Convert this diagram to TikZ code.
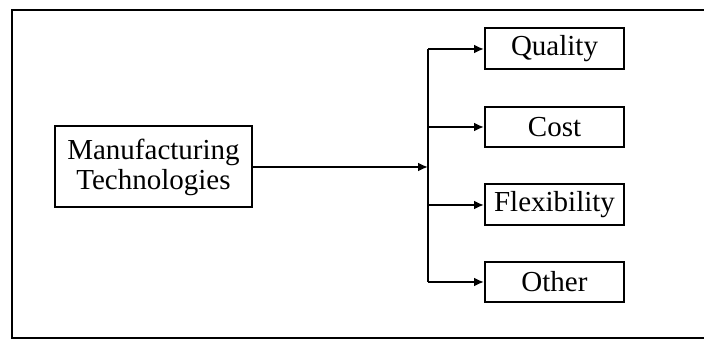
\documentclass[tikz,border=0pt]{standalone}
\usepackage{fontspec}
\setmainfont{Liberation Serif}
\usetikzlibrary{arrows.meta}
\begin{document}
\begin{tikzpicture}[x=1pt,y=1pt,
  box/.style={draw,line width=2pt,inner sep=0pt,align=center,font=\fontsize{29}{30}\selectfont},
  conn/.style={line width=2pt},
  arr/.style={conn,-{Latex[length=10pt,width=9pt]}}]
\useasboundingbox (0,0) rectangle (704,340);
\draw[line width=2pt] (704,330) -- (12,330) -- (12,2) -- (704,2);
\node[box,minimum width=197pt,minimum height=81pt] (M) at (153.5,173) {Manufacturing\\Technologies};
\node[box,minimum width=139pt,minimum height=41pt] (Q) at (554.5,291) {Quality};
\node[box,minimum width=139pt,minimum height=40pt] (C) at (554.5,213) {Cost};
\node[box,minimum width=139pt,minimum height=41pt] (F) at (554.5,135) {Flexibility};
\node[box,minimum width=139pt,minimum height=40pt] (O) at (554.5,58) {Other};
\coordinate (J) at (428,173);
\coordinate (JT) at (428,291);
\coordinate (JB) at (428,58);
\draw[arr] (M.east) -- (J);
\draw[conn] (JT) -- (JB);
\draw[arr] (JT) -- (Q.west);
\draw[arr] (428,213) -- (C.west);
\draw[arr] (428,135) -- (F.west);
\draw[arr] (JB) -- (O.west);
\end{tikzpicture}
\end{document}
